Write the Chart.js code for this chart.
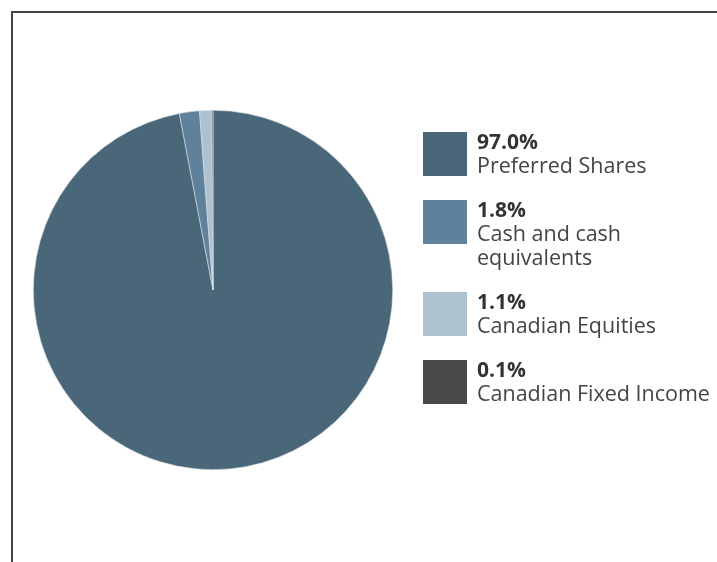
<!DOCTYPE html>
<html>
<head>
<meta charset="utf-8">
<script src="https://cdn.jsdelivr.net/npm/chart.js@4"></script>
<style>
  html, body { margin: 0; padding: 0; background: #fff; overflow: hidden; }
  #wrap { position: relative; width: 717px; height: 562px; }
  #frame {
    position: absolute; left: 11px; top: 11px; width: 720px; height: 560px;
    border-left: 2px solid #444; border-top: 2px solid #444;
  }
  canvas { position: absolute; left: 0; top: 0; }
</style>
</head>
<body>
<div id="wrap">
  <div id="frame"></div>
  <canvas id="grafico" width="717" height="562"></canvas>
</div>
<script>
const categorias = [
    ['Preferred Shares'],
    ['Cash and cash', 'equivalents'],
    ['Canadian Equities'],
    ['Canadian Fixed Income']
];
const valores = [97.0, 1.8, 1.1, 0.1];
const colores = ['#4a6679', '#5f819b', '#adc2d0', '#4a4a4a'];

// leyenda dibujada a mano a la derecha del pastel
const leyendaPlugin = {
    id: 'leyendaDerecha',
    afterDraw(chart) {
        const ctx = chart.ctx;
        let y = 132;
        ctx.save();
        valores.forEach((v, i) => {
            ctx.fillStyle = colores[i];
            ctx.fillRect(423, y, 44, 44);
            ctx.textBaseline = 'alphabetic';
            ctx.fillStyle = '#333';
            ctx.font = 'bold 21px "Open Sans"';
            ctx.fillText(v.toFixed(1) + '%', 477, y + 17);
            ctx.fillStyle = '#444';
            ctx.font = '21.5px "Open Sans"';
            categorias[i].forEach((linea, j) => {
                ctx.fillText(linea, 477, y + 41 + j * 24);
            });
            y += 68 + (categorias[i].length - 1) * 24;
        });
        ctx.restore();
    }
};

new Chart(document.getElementById('grafico').getContext('2d'), {
    type: 'pie',
    data: {
        labels: categorias.map(c => c.join(' ')),
        datasets: [{
            data: valores,
            backgroundColor: colores,
            borderColor: '#d8dfe4',
            borderWidth: 0.6
        }]
    },
    options: {
        responsive: false,
        animation: false,
        layout: { padding: { left: 33, top: 110, right: 324, bottom: 92 } },
        plugins: {
            legend: { display: false },
            tooltip: { enabled: false }
        }
    },
    plugins: [leyendaPlugin]
});
</script>
</body>
</html>
